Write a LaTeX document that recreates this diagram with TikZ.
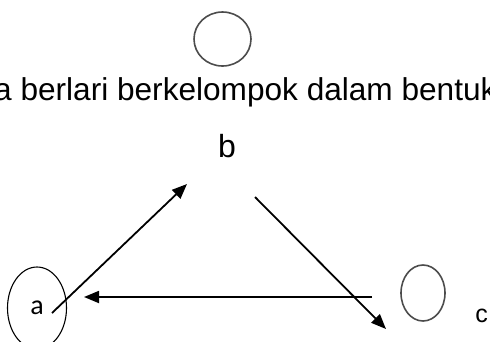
\documentclass[tikz,border=0pt]{standalone}
\usepackage{fontspec}
\setmainfont{Liberation Sans}
\newfontfamily\calibri{Carlito}
\usetikzlibrary{arrows.meta, shapes.geometric}

\begin{document}
\begin{tikzpicture}[x=1pt, y=-1pt,
    >={Triangle[length=15pt, width=12pt]},
    A/.style={->, line width=1.8pt, color=black},
    O/.style={ellipse, draw=#1, line width=1.6pt, inner sep=0pt},
    L/.style={font=\fontsize{#1}{#1}\selectfont, inner sep=0pt}
]
\useasboundingbox (0,0) rectangle (490,341);

% === TOP: CIRCLE + SENTENCE ===
\node[O=black!70, minimum width=57pt, minimum height=54pt] (top) at (222.5,39) {};
\node[L=31.6pt, anchor=base west] (title) at (-6,100) {a berlari berkelompok dalam bentuk};

% === TRIANGLE: a, b, c ===
\node[L=32pt] (b) at (227,146) {b};
\node[O=black, line width=1.1pt, minimum width=59pt, minimum height=82pt,
      font=\calibri\fontsize{28pt}{28pt}\selectfont] (a) at (37,308) {a};
\node[O=black!70, minimum width=44pt, minimum height=56pt] (cc) at (423,293) {};
\node[L=25pt] (c) at (481.5,315.5) {c};

% arrow ends
\coordinate (a1) at (52,313);
\coordinate (b1) at (187,184);
\coordinate (b2) at (255,197);
\coordinate (c1) at (386,329);
\coordinate (c2) at (372,297);
\coordinate (a2) at (84,297);

\draw[A] (a1) -- (b1);
\draw[A] (b2) -- (c1);
\draw[A] (c2) -- (a2);

\end{tikzpicture}
\end{document}
